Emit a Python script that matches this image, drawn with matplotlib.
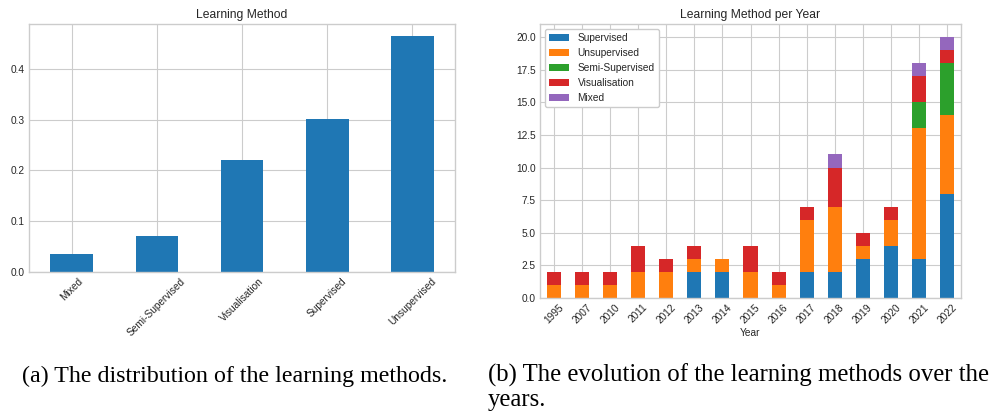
import matplotlib
matplotlib.use("Agg")
import matplotlib.pyplot as plt
import numpy as np

# ---- data ----
methods = ["Mixed", "Semi-Supervised", "Visualisation", "Supervised", "Unsupervised"]
method_share = [0.035, 0.070, 0.221, 0.302, 0.465]

years = ["1995", "2007", "2010", "2011", "2012", "2013", "2014", "2015",
         "2016", "2017", "2018", "2019", "2020", "2021", "2022"]
supervised      = [0, 0, 0, 0, 0, 2, 2, 0, 0, 2, 2, 3, 4, 3, 8]
unsupervised    = [1, 1, 1, 2, 2, 1, 1, 2, 1, 4, 5, 1, 2, 10, 6]
semi_supervised = [0, 0, 0, 0, 0, 0, 0, 0, 0, 0, 0, 0, 0, 2, 4]
visualisation   = [1, 1, 1, 2, 1, 1, 0, 2, 1, 1, 3, 1, 1, 2, 1]
mixed           = [0, 0, 0, 0, 0, 0, 0, 0, 0, 0, 1, 0, 0, 1, 1]
series_names = ["Supervised", "Unsupervised", "Semi-Supervised", "Visualisation", "Mixed"]
series_vals = [supervised, unsupervised, semi_supervised, visualisation, mixed]
colors = ["#1f77b4", "#ff7f0e", "#2ca02c", "#d62728", "#9467bd"]

caption_a = "(a) The distribution of the learning methods."
caption_b_lines = ["(b) The evolution of the learning methods over the", "years."]

plt.style.use("seaborn-v0_8-whitegrid")
plt.rcParams["font.family"] = ["Liberation Sans", "DejaVu Sans"]

W, H = 994, 419
fig = plt.figure(figsize=(W / 100, H / 100), dpi=100)

def px_axes(x0, y0, x1, y1):
    return fig.add_axes([x0 / W, 1 - y1 / H, (x1 - x0) / W, (y1 - y0) / H])

tick_fs = 7.3
title_fs = 8.7

# ---- left: distribution ----
ax1 = px_axes(29, 24, 455, 272)
x1 = np.arange(len(methods))
ax1.bar(x1, method_share, width=0.5, color=colors[0], zorder=2)
ax1.set_xlim(-0.5, len(methods) - 0.5)
ax1.set_ylim(0, max(method_share) * 1.05)
ax1.set_xticks(x1)
ax1.set_xticklabels(methods, rotation=45, fontsize=tick_fs)
ax1.set_yticks([0.0, 0.1, 0.2, 0.3, 0.4])
ax1.set_yticklabels(["0.0", "0.1", "0.2", "0.3", "0.4"], fontsize=tick_fs)
ax1.set_title("Learning Method", fontsize=title_fs, pad=4)

# ---- right: stacked per year ----
ax2 = px_axes(540, 24, 961, 298)
x2 = np.arange(len(years))
bottom = np.zeros(len(years))
for name, vals, c in zip(series_names, series_vals, colors):
    v = np.array(vals, dtype=float)
    ax2.bar(x2, v, width=0.5, bottom=bottom, color=c, label=name, zorder=2)
    bottom += v
ax2.set_xlim(-0.5, len(years) - 0.5)
ax2.set_ylim(0, bottom.max() * 1.05)
ax2.set_xticks(x2)
ax2.set_xticklabels(years, rotation=45, fontsize=tick_fs)
yt = np.arange(0, 20.1, 2.5)
ax2.set_yticks(yt)
ax2.set_yticklabels([f"{v:.1f}" for v in yt], fontsize=tick_fs)
ax2.set_xlabel("Year", fontsize=tick_fs, labelpad=2)
ax2.set_title("Learning Method per Year", fontsize=title_fs, pad=4)
ax2.legend(loc="upper left", fontsize=tick_fs, frameon=True, framealpha=1,
           edgecolor="0.8", fancybox=True)

for ax in (ax1, ax2):
    for s in ax.spines.values():
        s.set_color("0.8")
        s.set_linewidth(1.0)
    ax.tick_params(pad=3)

# ---- captions ----
cap_family = ["Liberation Serif", "DejaVu Serif"]
fig.text(22 / W, 1 - 382 / H, caption_a, fontsize=17.3, va="baseline", ha="left",
         family=cap_family, color="black")
for i, line in enumerate(caption_b_lines):
    fig.text(488 / W, 1 - (382 + 24 * i) / H, line, fontsize=17.8, va="baseline",
             ha="left", family=cap_family, color="black")

fig.savefig("out.png", dpi=100)
